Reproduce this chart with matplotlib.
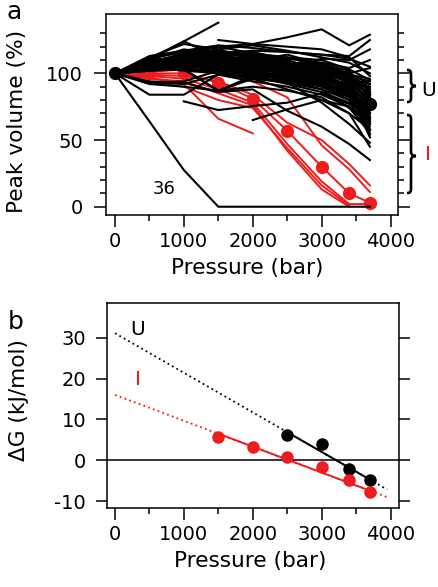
import numpy as np
import matplotlib
matplotlib.use("Agg")
import matplotlib.pyplot as plt
from matplotlib.path import Path
from matplotlib.patches import PathPatch
from matplotlib.ticker import MultipleLocator

plt.rcParams['font.family'] = ['DejaVu Sans']
plt.rcParams['axes.unicode_minus'] = False

nan = np.nan
# ---------------- data: panel a ----------------
pressure = [0, 500, 1000, 1500, 2000, 2500, 3000, 3400, 3700]

black_series = [
    [100, 108, 115, 112, 110, 106, 104, 98, 88],
    [100, 110, 118, 114, 113, 108, 107, 100, 92],
    [100, 104, 110, 108, 106, 104, 100, 94, 80],
    [100, 112, 122, 118, 121, 117, 112, 108, 100],
    [100, 106, 108, 110, 104, 100, 96, 88, 72],
    [100, 103, 105, 104, 102, 98, 94, 85, 68],
    [100, 109, 113, 116, 112, 110, 102, 95, 85],
    [100, 105, 107, 102, 100, 95, 90, 80, 62],
    [100, 103, 103, 87, 98, 92, 86, 78, 58],
    [100, 107, 112, 110, 108, 103, 98, 90, 76],
    [100, 111, 116, 120, 115, 112, 110, 103, 95],
    [100, 102, 104, 106, 103, 100, 97, 92, 82],
    [100, 108, 110, 107, 104, 99, 95, 88, 74],
    [100, 104, 109, 112, 110, 106, 100, 90, 70],
    [100, 106, 111, 108, 107, 104, 101, 96, 90],
    [100, 113, 117, 121, 119, 116, 114, 111, 105],
    [100, 103, 104, 101, 97, 93, 88, 80, 65],
    [100, 93, 92, 99, 94, 90, 84, 75, 55],
    [100, 92, 90, 87, 96, 93, 78, 62, 48],
    [100, 84, 84, 99, 98, 96, 93, 86, 75],
    [100, 103, 107, 105, 102, 96, 90, 82, 60],
    [100, 109, 114, 111, 109, 107, 105, 100, 86],
    [100, 105, 106, 104, 100, 97, 93, 87, 70],
    [100, 102, 103, 103, 101, 98, 95, 89, 78],
    [100, 110, 110, 113, 111, 108, 104, 97, 84],
    [100, 107, 109, 106, 105, 101, 99, 96, 92],
    [100, 104, 108, 110, 106, 102, 98, 86, 52],
    [100, 103, 106, 103, 100, 96, 92, 84, 66],
    [100, 108, 112, 115, 113, 109, 103, 93, 80],
    [100, 93, 94, 102, 100, 97, 91, 83, 63],
    [100, 106, 110, 109, 108, 106, 102, 98, 94],
    [100, 111, 124, 112, 109, 104, 100, 94, 84],
    [100, 110, 124, 138, nan, nan, nan, nan, nan],
    [nan, nan, nan, 125, 122, 120, 118, 112, 98],
    [100, 108, 114, 120, 122, 127, 133, 121, 129],
    [100, 106, 112, 115, 117, 116, 114, 113, 125],
    [100, 104, 110, 107, 105, 103, 111, 110, 118],
    [100, 94, 93, 86, 88, 72, 60, 47, 35],
    [100, 104, 103, 87, 90, 87, 82, 70, 45],
    [100, 103, 104, 100, 96, 88, 80, 70, 58],
    [nan, nan, nan, nan, 65, 73, 80, 75, 62],
    [nan, nan, 79, 72.5, 75.5, 78, 85, 77, 70],
    [100, 104, 102, 100, 99, 95, 88, 74, 57],
    [100, 105, 103, 101, 97, 94, 91, 85, 73],
    [100, 112, 116, 111, 110, 105, 101, 96, 88],
    [100, 64, 27.5, 0, 0, 0, 0, 0, 0],
    [100, 107, 113, 117, 114, 111, 108, 104, 110],
    [100, 103, 106, 109, 107, 105, 103, 100, 104],
    [100, 105, 112, 109, 111, 108, 106, 99, 96],
    [100, 102, 108, 104, 103, 101, 99, 91, 77],
    [100, 109, 111, 114, 108, 112, 105, 92, 67],
    [100, 104, 113, 110, 113, 105, 108, 97, 83],
    [100, 107, 105, 108, 105, 109, 100, 101, 86],
    [100, 111, 109, 112, 116, 110, 99, 89, 64],
    [100, 103, 111, 106, 109, 101, 104, 94, 90],
    [100, 106, 114, 118, 110, 114, 107, 102, 81],
    [100, 103, 105, 107, 102, 104, 96, 90, 54],
    [100, 108, 106, 103, 107, 99, 101, 93, 79],
]

red_series = [
    [100, 97, 92, 66, 55, nan, nan, nan, nan],
    [100, 93, 90, 80, 74, 44, 16, 1, nan],
    [100, 96, 94, 85, 76, 42, 13, 0, nan],
    [100, 98, 96, 88, 78, 47, 19, 2, 2],
    [100, 100, 100, 93, 81, 57, 30, 10, 3],
    [100, 101, 103, 100, 94, 82, 46, 28, 11],
    [100, 99, 98, 94, 84, 63, 50, 32, 16],
]

red_mean_p = [500, 1000, 1500, 2000, 2500, 3000, 3400, 3700]
red_mean_v = [100, 100, 93, 81, 57, 30, 10, 3]
black_mean_p = [0, 3700]
black_mean_v = [100, 77]

# ---------------- data: panel b ----------------
dg_U_p = [2500, 3000, 3400, 3700]
dg_U_v = [6.2, 3.9, -2.1, -4.8]
dg_I_p = [1500, 2000, 2500, 3000, 3400, 3700]
dg_I_v = [5.8, 3.3, 0.9, -1.7, -4.8, -7.7]
fit_U = [31.1, -0.00969]   # intercept, slope
fit_I = [16.0, -0.00634]
fit_extent = [0, 3950]

RED = '#ee1c1c'
W, H = 439, 587
fig = plt.figure(figsize=(W / 100, H / 100), dpi=100)

def fbox(l, t, r, b):
    return [l / W, 1 - b / H, (r - l) / W, (b - t) / H]

tick_fs = 14
lab_fs = 15.6

# ---------------- panel a ----------------
ax = fig.add_axes(fbox(106, 14, 398.5, 215))
for s in red_series:
    ax.plot(pressure, s, color=RED, lw=1.4, zorder=2)
ax.plot(red_mean_p, red_mean_v, 'o', color=RED, ms=8.5, zorder=2.5)
for s in black_series:
    ax.plot(pressure, s, color='black', lw=1.5, zorder=3)
ax.plot(black_mean_p, black_mean_v, 'o', color='black', ms=8.5, zorder=4)

ax.set_xlim(-130, 4115)
ax.set_ylim(-6.2, 144.5)
ax.set_yticks([0, 50, 100])
ax.set_xticks([0, 1000, 2000, 3000, 4000])
ax.xaxis.set_minor_locator(MultipleLocator(500))
ax.set_yticks([v for v in range(0, 140, 10) if v % 50], minor=True)
ax.tick_params(which='both', direction='out', width=1.1, labelsize=tick_fs, right=True)
ax.tick_params(which='major', length=8.5)
ax.tick_params(which='minor', length=4.5)
ax.tick_params(axis='y', pad=8)
ax.tick_params(axis='x', pad=4)
for sp in ax.spines.values():
    sp.set_linewidth(1.1)
ax.text(0.484, -0.264, 'Pressure (bar)', transform=ax.transAxes, ha='center', va='center', fontsize=lab_fs)
ax.text(-0.304, 0.463, 'Peak volume (%)', transform=ax.transAxes, ha='center', va='center',
        rotation=90, fontsize=lab_fs)
ax.text(710, 13.5, '36', ha='center', va='center', fontsize=13)

# ---------------- panel b ----------------
bx = fig.add_axes(fbox(107, 303, 399, 508))
xx = np.array(fit_extent, dtype=float)
bx.plot(xx, fit_U[0] + fit_U[1] * xx, color='black', lw=1.3, ls=(0, (1, 1.8)), zorder=2)
bx.plot(xx, fit_I[0] + fit_I[1] * xx, color=RED, lw=1.3, ls=(0, (1, 1.8)), zorder=2)
xu = np.array([dg_U_p[0], dg_U_p[-1]], dtype=float)
xi = np.array([dg_I_p[0], dg_I_p[-1]], dtype=float)
bx.plot(xu, fit_U[0] + fit_U[1] * xu, color='black', lw=1.4, zorder=3)
bx.plot(xi, fit_I[0] + fit_I[1] * xi, color=RED, lw=1.4, zorder=3)
bx.plot(dg_U_p, dg_U_v, 'o', color='black', ms=8, zorder=4)
bx.plot(dg_I_p, dg_I_v, 'o', color=RED, ms=8, zorder=4)
bx.axhline(0, color='black', lw=1.1, zorder=1)
bx.set_xlim(-116, 4122)
bx.set_ylim(-11.7, 38.5)
bx.set_yticks([-10, 0, 10, 20, 30])
bx.set_xticks([0, 1000, 2000, 3000, 4000])
bx.xaxis.set_minor_locator(MultipleLocator(500))
bx.tick_params(which='both', direction='out', width=1.1, labelsize=tick_fs)
bx.tick_params(axis='y', which='major', length=8, right=True, pad=7)
bx.tick_params(axis='x', which='major', length=8.5, pad=4)
bx.tick_params(axis='x', which='minor', length=4.5)
for sp in bx.spines.values():
    sp.set_linewidth(1.1)
bx.text(0.49, -0.259, 'Pressure (bar)', transform=bx.transAxes, ha='center', va='center', fontsize=lab_fs)
bx.text(-0.30, 0.527, 'ΔG (kJ/mol)', transform=bx.transAxes, ha='center', va='center',
        rotation=90, fontsize=lab_fs)
bx.text(334, 32, 'U', ha='center', va='center', fontsize=14.5)
bx.text(334, 19.7, 'I', ha='center', va='center', fontsize=14.5, color=RED)

# ---------------- figure texts ----------------
def ftext(x, y, s, **kw):
    fig.text(x / W, 1 - y / H, s, ha='center', va='center', **kw)

ftext(14.5, 12, 'a', fontsize=18)
ftext(15.5, 322, 'b', fontsize=18)
ftext(429, 90, 'U', fontsize=14.5)
ftext(428, 154, 'I', fontsize=14.5, color=RED)

def brace(yt, yb, ym, xl=407, xm=411, xr=416):
    pts = [(xl, yt), (xm, yt), (xm, yt + 2), (xm, yt + 5),
           (xm, ym - 4),
           (xm, ym - 1), (xr - 2, ym), (xr, ym),
           (xr - 2, ym), (xm, ym + 1), (xm, ym + 4),
           (xm, yb - 5),
           (xm, yb - 2), (xm, yb), (xl, yb)]
    codes = [Path.MOVETO, Path.CURVE4, Path.CURVE4, Path.CURVE4,
             Path.LINETO,
             Path.CURVE4, Path.CURVE4, Path.CURVE4,
             Path.CURVE4, Path.CURVE4, Path.CURVE4,
             Path.LINETO,
             Path.CURVE4, Path.CURVE4, Path.CURVE4]
    verts = [(x / W, 1 - y / H) for x, y in pts]
    fig.add_artist(PathPatch(Path(verts, codes), fill=False, lw=1.9, color='black',
                             transform=fig.transFigure))

brace(70, 102, 86)
brace(115, 193, 156)

fig.savefig('out.png', dpi=100)
